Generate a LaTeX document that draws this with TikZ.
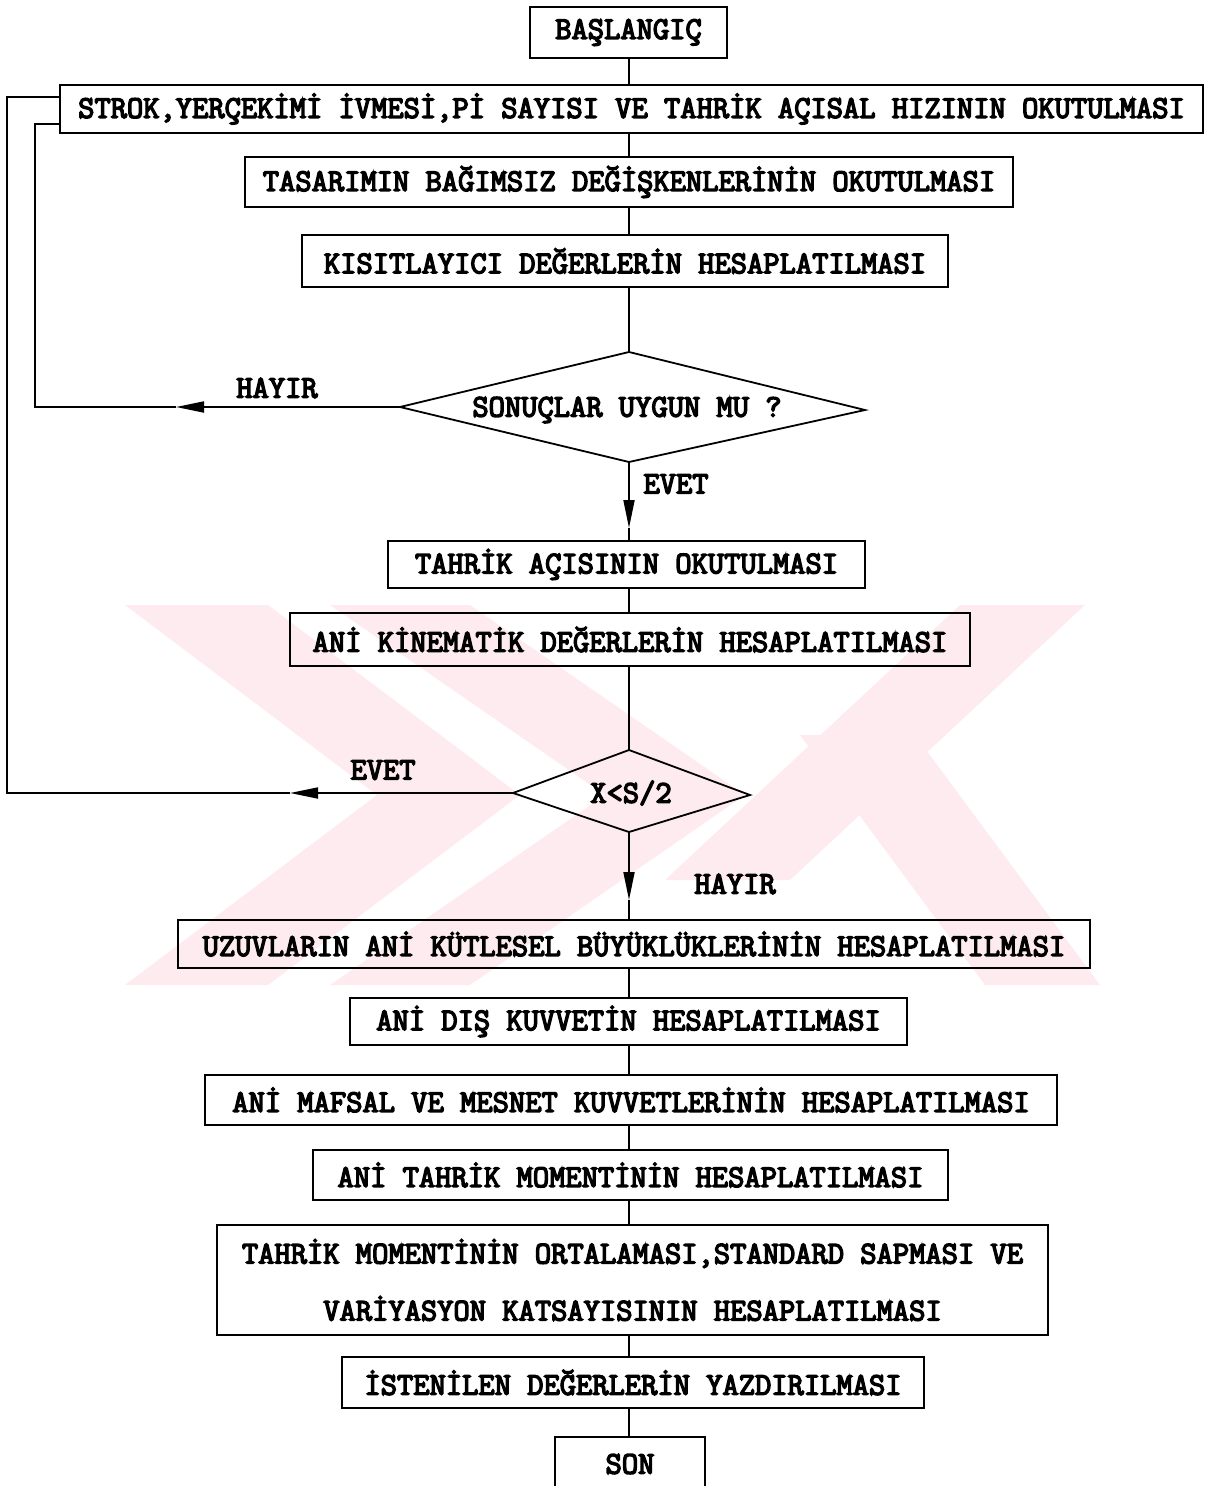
\documentclass[tikz,border=0pt]{standalone}
\usepackage{fontspec}
\newfontfamily\tw{Latin Modern Mono}[FakeBold=4.5]
\usetikzlibrary{shapes.geometric,arrows.meta}
\definecolor{wm}{HTML}{FDEBEF}
\begin{document}
\begin{tikzpicture}[x=1pt,y=-1pt,
  ln/.style={line width=1.8pt},
  box/.style={draw,ln,rectangle,inner sep=0pt,font={\tw\fontsize{31.6}{57}\selectfont},align=center},
  dtxt/.style={inner sep=0pt,font={\tw\fontsize{31.6}{40}\selectfont}},
  lbl/.style={inner sep=0pt,font={\tw\fontsize{31.6}{40}\selectfont}},
  tip/.style={-{Triangle[length=28pt,width=11pt]}}]
\useasboundingbox (0,0) rectangle (1211,1486);
% faint watermark
\fill[wm] (125,605) -- (268,605) -- (520,795) -- (268,985) -- (125,985) -- (377,795) -- cycle;
\fill[wm] (330,605) -- (470,605) -- (745,795) -- (470,985) -- (330,985) -- (605,795) -- cycle;
\fill[wm] (960,605) -- (1085,605) -- (790,880) -- (665,880) -- cycle;
\fill[wm] (800,735) -- (915,735) -- (1100,985) -- (985,985) -- cycle;
% spine
\coordinate (sp) at (629,0);
% nodes
\node[box,minimum width=197pt,minimum height=51pt] (b0) at (628.5,32.5) {BAŞLANGIÇ};
\node[box,minimum width=1143pt,minimum height=48pt] (s1) at (631.5,109) {STROK,YERÇEKİMİ İVMESİ,Pİ SAYISI VE TAHRİK AÇISAL HIZININ OKUTULMASI};
\node[box,minimum width=768pt,minimum height=50pt] (s2) at (629,182) {TASARIMIN BAĞIMSIZ DEĞİŞKENLERİNİN OKUTULMASI};
\node[box,minimum width=646pt,minimum height=52pt] (s3) at (625,261) {KISITLAYICI DEĞERLERİN HESAPLATILMASI};
% diamond 1
\coordinate (d1n) at (629,352);
\coordinate (d1s) at (629,462);
\coordinate (d1w) at (400,407);
\coordinate (d1e) at (865,410);
\draw[ln,line join=miter] (d1n) -- (d1e) -- (d1s) -- (d1w) -- cycle;
\node[dtxt] (d1) at (627,410) {SONUÇLAR UYGUN MU ?};
\node[box,minimum width=477pt,minimum height=47pt] (s4) at (626.5,564.5) {TAHRİK AÇISININ OKUTULMASI};
\node[box,minimum width=680pt,minimum height=53pt] (s5) at (630,639.5) {ANİ KİNEMATİK DEĞERLERİN HESAPLATILMASI};
% diamond 2
\coordinate (d2n) at (629,750);
\coordinate (d2s) at (629,832);
\coordinate (d2w) at (513,793);
\coordinate (d2e) at (750,795);
\draw[ln,line join=miter] (d2n) -- (d2e) -- (d2s) -- (d2w) -- cycle;
\node[dtxt] (d2) at (631,793) {X<S/2};
\node[box,minimum width=912pt,minimum height=48pt] (s6) at (634,944) {UZUVLARIN ANİ KÜTLESEL BÜYÜKLÜKLERİNİN HESAPLATILMASI};
\node[box,minimum width=557pt,minimum height=47pt] (s7) at (628.5,1021.5) {ANİ DIŞ KUVVETİN HESAPLATILMASI};
\node[box,minimum width=852pt,minimum height=50pt] (s8) at (631,1100) {ANİ MAFSAL VE MESNET KUVVETLERİNİN HESAPLATILMASI};
\node[box,minimum width=635pt,minimum height=50pt] (s9) at (630.5,1175) {ANİ TAHRİK MOMENTİNİN HESAPLATILMASI};
\node[box,minimum width=831pt,minimum height=110pt] (s10) at (632.5,1280) {TAHRİK MOMENTİNİN ORTALAMASI,STANDARD SAPMASI VE\\VARİYASYON KATSAYISININ HESAPLATILMASI};
\node[box,minimum width=582pt,minimum height=51pt] (s11) at (633,1382.5) {İSTENİLEN DEĞERLERİN YAZDIRILMASI};
\node[box,minimum width=150pt,minimum height=54pt] (s12) at (630,1464) {SON};
% labels
\node[lbl] (l1) at (277,388) {HAYIR};
\node[lbl] (l2) at (676,484) {EVET};
\node[lbl] (l3) at (383,770) {EVET};
\node[lbl] (l4) at (735,884) {HAYIR};
% straight connectors
\draw[ln] (b0.south -| sp) -- (s1.north -| sp);
\draw[ln] (s1.south -| sp) -- (s2.north -| sp);
\draw[ln] (s2.south -| sp) -- (s3.north -| sp);
\draw[ln] (s3.south -| sp) -- (d1n);
\draw[ln] (s4.south -| sp) -- (s5.north -| sp);
\draw[ln] (s5.south -| sp) -- (d2n);
\draw[ln] (s6.south -| sp) -- (s7.north -| sp);
\draw[ln] (s7.south -| sp) -- (s8.north -| sp);
\draw[ln] (s8.south -| sp) -- (s9.north -| sp);
\draw[ln] (s9.south -| sp) -- (s10.north -| sp);
\draw[ln] (s10.south -| sp) -- (s11.north -| sp);
\draw[ln] (s11.south -| sp) -- (s12.north -| sp);
% EVET down from d1
\coordinate (a3) at (629,528);
\draw[ln,tip] (d1s) -- (a3);
\draw[ln] (a3) -- (s4.north -| a3);
% HAYIR down from d2
\coordinate (a4) at (629,900);
\draw[ln,tip] (d2s) -- (a4);
\draw[ln] (a4) -- (s6.north -| a4);
% HAYIR loop from d1
\coordinate (a1) at (176,407);
\coordinate (c1) at (35,407);
\coordinate (c2) at (35,124);
\draw[ln,tip] (d1w) -- (a1);
\draw[ln] (a1) -- (c1) -- (c2) -- (s1.west |- c2);
% EVET loop from d2
\coordinate (a2) at (290,793);
\coordinate (c3) at (7,793);
\coordinate (c4) at (7,97);
\draw[ln,tip] (d2w) -- (a2);
\draw[ln] (a2) -- (c3) -- (c4) -- (s1.west |- c4);
\end{tikzpicture}
\end{document}
